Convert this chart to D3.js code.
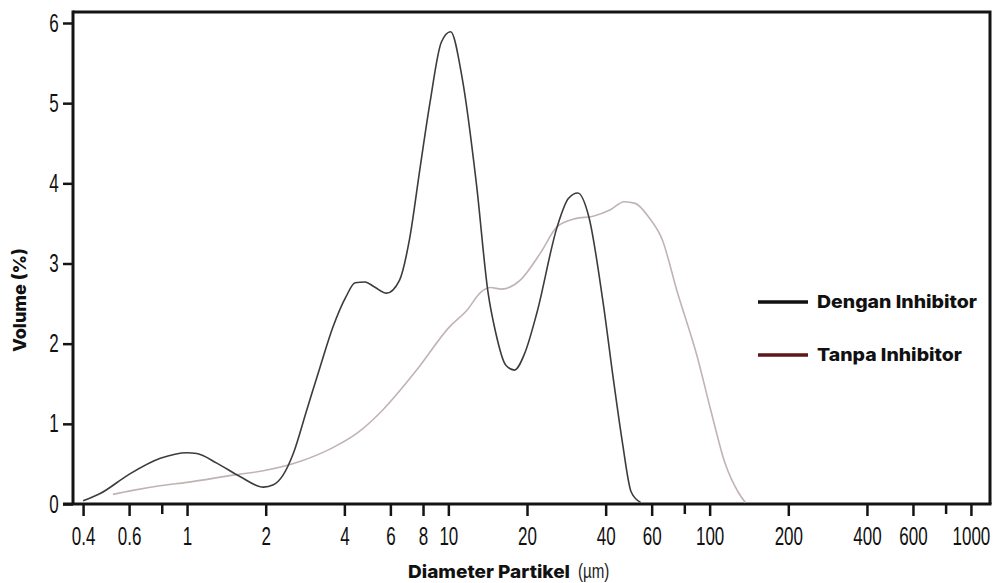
<!DOCTYPE html>
<html>
<head>
<meta charset="utf-8">
<script src="https://cdn.jsdelivr.net/npm/d3@7"></script>
<style>
  body { margin: 0; background: #fff; }
  .tick text { font-family: "Liberation Sans", Arial, sans-serif; fill: #111; }
  .title { font-family: Inter, "Noto Sans", sans-serif; font-weight: 800; fill: #111; }
</style>
</head>
<body>
<div id="chart"></div>
<script>
// particle size (um) and volume (%)
var denganSize = [0.40, 0.465, 0.60, 0.79, 1.00, 1.09, 1.30, 1.60, 1.96, 2.14, 2.33, 2.55, 2.87, 3.23, 3.62, 4.05, 4.40, 4.80, 5.20, 5.80, 6.50, 7.10, 7.80, 8.50, 9.40, 10.2, 11.3, 12.8, 14.2, 15.1, 16.6, 17.9, 19.6, 21.8, 26.1, 28.8, 31.3, 34.5, 39.0, 43.0, 46.4, 50.1, 54.4];
var denganVol = [0.04, 0.13, 0.37, 0.57, 0.64, 0.63, 0.51, 0.34, 0.21, 0.24, 0.36, 0.63, 1.17, 1.71, 2.21, 2.58, 2.76, 2.77, 2.71, 2.63, 2.79, 3.30, 4.20, 5.00, 5.76, 5.89, 5.31, 4.00, 2.63, 2.17, 1.73, 1.67, 1.88, 2.38, 3.46, 3.81, 3.88, 3.58, 2.54, 1.51, 0.76, 0.15, 0.02];

var tanpaSize = [0.52, 0.62, 0.80, 1.00, 1.50, 2.00, 2.70, 3.60, 4.46, 5.60, 7.56, 10.1, 11.8, 13.3, 14.5, 16.0, 18.8, 22.5, 26.1, 30.6, 35.8, 41.7, 47.1, 51.9, 58.4, 66.0, 74.8, 89.6, 101, 114.5, 129, 137];
var tanpaVol = [0.12, 0.17, 0.23, 0.27, 0.36, 0.42, 0.53, 0.70, 0.88, 1.17, 1.67, 2.21, 2.42, 2.64, 2.70, 2.68, 2.79, 3.13, 3.46, 3.56, 3.59, 3.67, 3.77, 3.75, 3.58, 3.29, 2.67, 1.84, 1.17, 0.51, 0.14, 0.02];

var xTicks = [0.4, 0.6, 0.8, 1, 2, 4, 6, 8, 10, 20, 40, 60, 80, 100, 200, 400, 600, 800, 1000];
var xUnlabeled = [0.8, 80, 800];
var yTicks = [0, 1, 2, 3, 4, 5, 6];

var seriesNames = ["Dengan Inhibitor", "Tanpa Inhibitor"];

let width = 995
let height = 583

var plotLeft = 73, plotRight = 990, plotTop = 12, plotBottom = 504;

var svg = d3.select("#chart").append("svg")
    .attr("width", width)
    .attr("height", height);

var xScale = d3.scaleLog().domain([0.366, 1183]).range([plotLeft, plotRight]);
var yScale = d3.scaleLinear().domain([0, 6]).range([plotBottom, 23]);

// frame (top and right)
svg.append("path")
    .attr("d", "M" + plotLeft + "," + plotTop + "H" + plotRight + "V" + plotBottom)
    .attr("fill", "none")
    .attr("stroke", "#141414")
    .attr("stroke-width", 3);

var xAxis = d3.axisBottom(xScale)
    .tickValues(xTicks)
    .tickFormat(function(d) { return xUnlabeled.indexOf(d) >= 0 ? "" : String(d); })
    .tickSize(12)
    .tickPadding(11)
    .tickSizeOuter(0);

var gx = svg.append("g")
    .attr("transform", "translate(0," + plotBottom + ")")
    .call(xAxis);
gx.select(".domain").attr("stroke", "#141414").attr("stroke-width", 3)
    .attr("d", "M" + (plotLeft - 10) + ",0H" + (plotRight + 1.5));
gx.selectAll(".tick line").attr("stroke", "#141414").attr("stroke-width", 2.5)
    .attr("y2", function(d) { return xUnlabeled.indexOf(d) >= 0 ? 10 : 12; });
// condensed look of the tick labels
gx.selectAll(".tick text").attr("font-size", 25).attr("transform", "scale(0.68,1)");

var yAxis = d3.axisLeft(yScale)
    .tickValues(yTicks)
    .tickFormat(d3.format("d"))
    .tickSize(10)
    .tickPadding(11)
    .tickSizeOuter(0);

var gy = svg.append("g")
    .attr("transform", "translate(" + plotLeft + ",0)")
    .call(yAxis);
gy.select(".domain").attr("stroke", "#141414").attr("stroke-width", 3)
    .attr("d", "M0," + (plotTop - 1.5) + "V" + plotBottom);
gy.selectAll(".tick line").attr("stroke", "#141414").attr("stroke-width", 2.5);
gy.selectAll(".tick text").attr("font-size", 25).attr("transform", "scale(0.68,1)");

// lines
var line = d3.line()
    .x(function(d) { return xScale(d[0]); })
    .y(function(d) { return yScale(d[1]); })
    .curve(d3.curveMonotoneX);

var tanpaData = d3.zip(tanpaSize, tanpaVol);
var denganData = d3.zip(denganSize, denganVol);

svg.append("path")
    .datum(tanpaData)
    .attr("d", line)
    .attr("fill", "none")
    .attr("stroke", "#c2b3b3")
    .attr("stroke-width", 1.6);

svg.append("path")
    .datum(denganData)
    .attr("d", line)
    .attr("fill", "none")
    .attr("stroke", "#3c3c3c")
    .attr("stroke-width", 1.6);

// axis titles
svg.append("text")
    .attr("class", "title")
    .attr("x", 408)
    .attr("y", 578)
    .attr("font-size", 18)
    .attr("textLength", 162)
    .attr("lengthAdjust", "spacingAndGlyphs")
    .text("Diameter Partikel");
svg.append("text")
    .attr("x", 578)
    .attr("y", 578)
    .attr("font-size", 21)
    .attr("font-family", "'Liberation Sans', sans-serif")
    .attr("fill", "#222")
    .attr("transform", "translate(578,0)scale(0.72,1)translate(-578,0)")
    .text("(\u00b5m)");

svg.append("text")
    .attr("class", "title")
    .attr("transform", "translate(26,300)rotate(-90)")
    .attr("x", -52)
    .attr("font-size", 18)
    .attr("textLength", 104)
    .attr("lengthAdjust", "spacingAndGlyphs")
    .text("Volume (%)");

// legend
var legendColors = ["#111111", "#5e1616"];
var legendY = [302, 355];
var legendWidths = [160, 145];
seriesNames.forEach(function(name, i) {
    svg.append("line")
        .attr("x1", 758).attr("x2", 808)
        .attr("y1", legendY[i]).attr("y2", legendY[i])
        .attr("stroke", legendColors[i])
        .attr("stroke-width", 3.5);
    svg.append("text")
        .attr("class", "title")
        .attr("x", 817)
        .attr("y", legendY[i] + 6)
        .attr("font-size", 18)
        .attr("textLength", legendWidths[i])
        .attr("lengthAdjust", "spacingAndGlyphs")
        .text(name);
});
</script>
</body>
</html>
